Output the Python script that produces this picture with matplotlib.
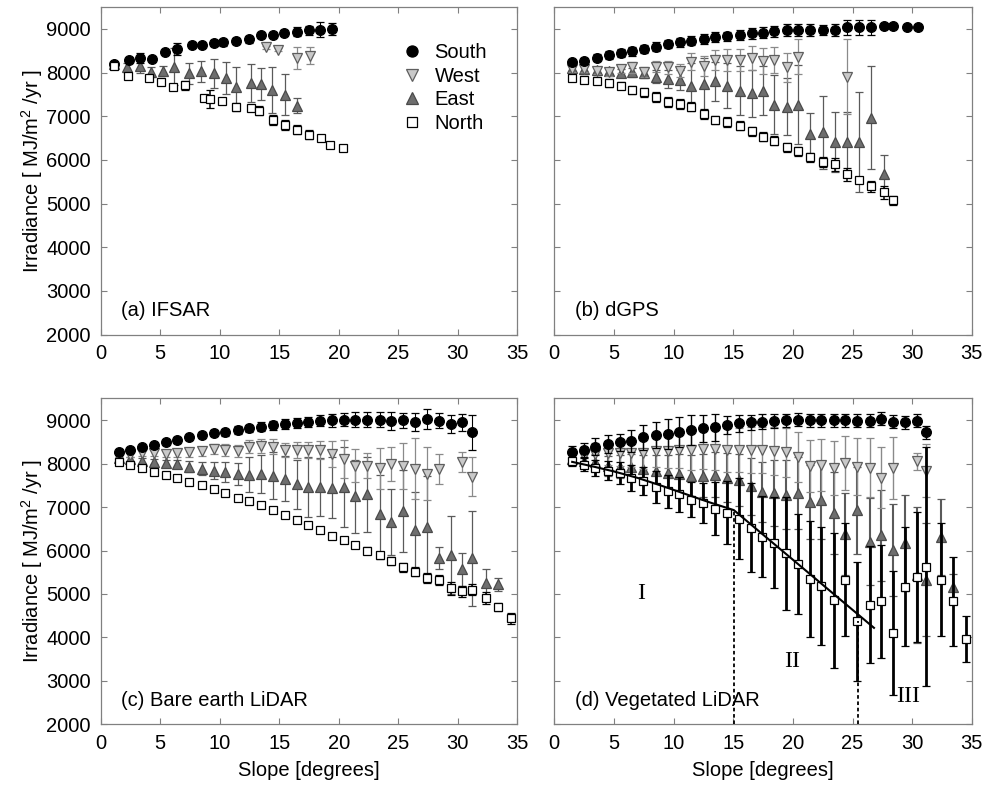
import numpy as np
import matplotlib.pyplot as plt
from matplotlib.lines import Line2D

plt.rcParams.update({
    "font.family": "Liberation Sans",
    "font.size": 14.5,
    "mathtext.fontset": "custom",
    "mathtext.rm": "Liberation Sans",
})

nan = np.nan

# (a) IFSAR -- each aspect class has its own slope bins
a_south_x = [1.1, 2.4, 3.3, 4.3, 5.4, 6.4, 7.7, 8.5, 9.5, 10.3, 11.4, 12.5, 13.5, 14.5, 15.4, 16.5, 17.5, 18.4, 19.4]
a_south_y = [8190, 8290, 8330, 8310, 8465, 8540, 8640, 8630, 8670, 8690, 8725, 8765, 8855, 8870, 8915, 8940, 8970, 8985, 9005]
a_south_e = [30, 50, 110, 40, 40, 130, 50, 50, 70, 70, 70, 80, 60, 60, 50, 100, 100, 170, 140]

a_west_x = [13.9, 14.9, 16.5, 17.6]
a_west_y = [8580, 8525, 8335, 8390]
a_west_e = [40, 40, 250, 190]

a_east_x = [1.1, 2.2, 3.3, 4.2, 5.2, 6.2, 7.4, 8.4, 9.5, 10.5, 11.4, 12.6, 13.5, 14.4, 15.5, 16.5]
a_east_y = [8200, 8120, 8145, 8010, 8045, 8135, 7985, 8025, 7985, 7870, 7665, 7755, 7740, 7605, 7495, 7245]
a_east_e = [40, 110, 150, 110, 110, 420, 245, 230, 330, 365, 460, 440, 365, 520, 470, 170]

a_north_x = [1.1, 2.3, 4.1, 5.1, 6.1, 7.1, 8.7, 9.2, 10.2, 11.4, 12.6, 13.3, 14.5, 15.5, 16.5, 17.5, 18.5, 19.3, 20.4]
a_north_y = [8160, 7930, 7880, 7795, 7665, 7705, 7420, 7400, 7360, 7205, 7185, 7130, 6915, 6805, 6695, 6575, 6505, 6330, 6270]
a_north_e = [40, 60, 60, 80, 60, 110, 60, 200, 60, 90, 70, 100, 110, 110, 100, 100, 60, 60, 60]

# (b) dGPS
b_x = [1.5, 2.5, 3.55, 4.6, 5.55, 6.55, 7.5, 8.5, 9.5, 10.5, 11.5, 12.55, 13.5, 14.45, 15.55,
       16.55, 17.5, 18.45, 19.5, 20.45, 21.45, 22.5, 23.5, 24.5, 25.55, 26.55, 27.6, 28.4, 29.6, 30.5]
b_south_y = [8237, 8259, 8336, 8412, 8450, 8488, 8542, 8595, 8656, 8694, 8732, 8771, 8809, 8831, 8862,
             8900, 8915, 8946, 8976, 8976, 8976, 8976, 8976, 9037, 9037, 9037, 9060, 9068, 9053, 9037]
b_south_e = [60, 70, 80, 90, 90, 100, 100, 100, 100, 100, 100, 110, 110, 110, 110,
             120, 120, 130, 130, 130, 130, 120, 130, 170, 170, 170, 40, 40, 40, 60]
b_west_y = [8085, 8085, 8046, 8008, 8084, 8122, 8008, 8137, 8122, 8046, 8252, 8160, 8290, 8290, 8290,
            8336, 8259, 8290, 8122, 8366, nan, nan, nan, 7909, nan, nan, nan, nan, nan, nan]
b_west_e = [80, 80, 80, 90, 100, 120, 120, 130, 150, 150, 200, 230, 230, 250, 250,
            270, 300, 300, 330, 400, nan, nan, nan, 850, nan, nan, nan, nan, nan, nan]
b_east_y = [8100, 8080, 8050, 8030, 8000, 8008, 7985, 7909, 7855, 7832, 7703, 7741, 7802, 7703, 7588,
            7527, 7588, 7268, 7222, 7268, 6582, 6635, 6406, 6406, 6406, 6963, 5682, nan, nan, nan]
b_east_e = [60, 70, 80, 80, 90, 100, 120, 150, 200, 230, 520, 600, 450, 520, 560,
            540, 560, 680, 650, 900, 500, 840, 690, 700, 1150, 1180, 435, nan, nan, nan]
b_north_y = [7878, 7832, 7817, 7756, 7703, 7604, 7550, 7436, 7321, 7283, 7222, 7055, 6917, 6864, 6788,
             6658, 6536, 6444, 6292, 6200, 6063, 5949, 5895, 5666, 5529, 5392, 5262, 5071, nan, nan]
b_north_e = [60, 80, 80, 90, 90, 100, 100, 110, 110, 110, 110, 120, 100, 110, 100,
             100, 100, 100, 100, 100, 100, 110, 150, 160, 60, 130, 150, 110, nan, nan]

# (c) bare earth and (d) vegetated LiDAR share the slope bins
cd_x = [1.5, 2.5, 3.45, 4.5, 5.5, 6.45, 7.45, 8.5, 9.5, 10.45,
        11.5, 12.45, 13.5, 14.45, 15.5, 16.5, 17.45, 18.45, 19.45, 20.45,
        21.4, 22.4, 23.45, 24.4, 25.4, 26.45, 27.4, 28.4, 29.4, 30.4,
        31.2, 32.4, 33.4, 34.5]

c_south_y = [8260, 8314, 8375, 8436, 8489, 8542, 8603, 8657, 8695, 8725,
             8771, 8809, 8847, 8878, 8908, 8939, 8962, 8985, 9000, 9015,
             9015, 9015, 9015, 8985, 9000, 8962, 9031, 8985, 8908, 8947,
             8718, nan, nan, nan]
c_south_e = [30, 40, 40, 50, 50, 60, 60, 70, 70, 80,
             90, 90, 100, 100, 110, 110, 120, 130, 150, 150,
             170, 170, 170, 200, 170, 200, 230, 170, 200, 200,
             400, nan, nan, nan]
c_west_y = [8146, 8207, 8237, 8237, 8222, 8237, 8260, 8283, 8336, 8314,
            8283, 8390, 8413, 8390, 8314, 8314, 8314, 8314, 8222, 8108,
            7955, 7955, 7894, 7993, 7955, 7879, 7764, 7879, nan, 8031,
            7703, nan, nan, nan]
c_west_e = [50, 60, 70, 70, 80, 90, 100, 110, 120, 130,
            140, 150, 160, 170, 170, 190, 190, 200, 300, 440,
            370, 290, 470, 400, 530, 700, 610, 340, nan, 230,
            440, nan, nan, nan]
c_east_y = [8123, 8108, 8070, 8047, 8008, 7993, 7932, 7879, 7841, 7818,
            7764, 7742, 7764, 7726, 7650, 7520, 7459, 7459, 7444, 7459,
            7246, 7292, 6834, 6658, 6910, 6468, 6544, 5820, 5896, 5568,
            5820, 5262, 5220, nan]
c_east_e = [40, 50, 60, 60, 80, 100, 120, 150, 200, 230,
            250, 400, 430, 530, 520, 570, 690, 670, 700, 915,
            840, 855, 900, 760, 950, 880, 1180, 250, 900, 380,
            1090, 320, 150, nan]
c_north_y = [8047, 7978, 7902, 7818, 7742, 7665, 7574, 7497, 7406, 7322,
             7215, 7131, 7040, 6925, 6811, 6712, 6597, 6468, 6338, 6239,
             6125, 5995, 5896, 5759, 5614, 5514, 5362, 5324, 5133, 5057,
             5095, 4905, 4700, 4440]
c_north_e = [40, 40, 40, 50, 50, 60, 50, 50, 50, 50,
             50, 50, 50, 50, 50, 50, 60, 60, 60, 60,
             70, 80, 80, 90, 100, 110, 120, 120, 150, 130,
             130, 130, 100, 120]

d_south_y = [8260, 8314, 8390, 8451, 8489, 8527, 8603, 8657, 8680, 8733,
             8771, 8809, 8832, 8886, 8924, 8947, 8962, 8985, 9000, 9015,
             9000, 9000, 9000, 9000, 8985, 8985, 9038, 8962, 8947, 8985,
             8718, nan, nan, nan]
d_south_e = [150, 170, 200, 200, 200, 250, 280, 300, 340, 350,
             350, 320, 300, 200, 190, 180, 170, 160, 150, 150,
             150, 150, 150, 150, 150, 150, 150, 150, 150, 150,
             150, nan, nan, nan]
d_west_y = [8146, 8184, 8222, 8237, 8237, 8237, 8237, 8298, 8298, 8314,
            8314, 8336, 8336, 8314, 8314, 8314, 8314, 8298, 8260, 8146,
            7955, 7978, 7902, 8008, 7932, 7902, 7673, 7902, nan, 8054,
            7841, nan, nan, nan]
d_west_e = [150, 200, 250, 280, 300, 320, 350, 380, 400, 420,
            450, 470, 480, 500, 500, 520, 540, 550, 560, 580,
            600, 600, 620, 620, 650, 680, 700, 720, nan, 200,
            600, nan, nan, nan]
d_east_y = [8108, 8070, 8031, 7955, 7932, 7932, 7879, 7825, 7780, 7764,
            7726, 7726, 7749, 7673, 7627, 7475, 7345, 7322, 7284, 7322,
            7116, 7170, 6864, 6376, 6925, 6201, 6353, 6010, 6178, 5438,
            5324, 6315, 5156, nan]
d_east_e = [150, 180, 200, 230, 260, 300, 330, 380, 420, 450,
            480, 500, 520, 560, 600, 650, 700, 750, 800, 820,
            850, 900, 950, 950, 1000, 1000, 1050, 1050, 1100, 1560,
            1300, 880, 300, nan]
d_north_y = [8070, 7978, 7902, 7841, 7780, 7673, 7597, 7459, 7360, 7292,
             7170, 7093, 6964, 6872, 6735, 6529, 6315, 6178, 5934, 5682,
             5339, 5186, 4851, 5324, 4370, 4752, 4828, 4104, 5171, 5385,
             5629, 5324, 4828, 3966]
d_north_e = [120, 150, 180, 220, 260, 300, 330, 360, 380, 400,
             400, 450, 610, 725, 930, 1030, 930, 1045, 1300, 1150,
             1335, 1350, 1560, 1300, 1370, 1350, 1300, 1430, 1370, 1500,
             2750, 1300, 1030, 530]

# piecewise fit through the vegetated north-facing means
fit_x = [1.5, 3, 5, 7, 9, 11, 13, 15.05, 26.8]
fit_y = [8040, 7950, 7820, 7670, 7490, 7300, 7110, 6930, 4220]
break_x = [15.05, 25.5]
break_top = [6930, 4370]

style = {
    'South': dict(fmt='o', ms=7, mfc='k', mec='k', ecolor='k', elw=0.8, z=5),
    'West': dict(fmt='v', ms=7.5, mfc='#c9c9c9', mec='#5e5e5e', ecolor='#8a8a8a', elw=0.9, z=4),
    'East': dict(fmt='^', ms=7.5, mfc='#6e6e6e', mec='#4a4a4a', ecolor='#5a5a5a', elw=0.9, z=3),
    'North': dict(fmt='s', ms=6, mfc='white', mec='k', ecolor='k', elw=1.1, z=6),
}
veg_lw = {'South': 1.0, 'West': 1.0, 'East': 1.5, 'North': 2.0}


def draw(ax, series, lw=None):
    for name in ['North', 'East', 'West', 'South']:
        x, y, e = series[name]
        st = style[name]
        w = lw[name] if lw else st['elw']
        ax.errorbar(x, y, yerr=e, fmt=st['fmt'], ms=st['ms'], mfc=st['mfc'],
                    mec=st['mec'], mew=0.9, ecolor=st['ecolor'], elinewidth=w,
                    capsize=3, capthick=w, zorder=st['z'])


fig = plt.figure(figsize=(9.87, 7.89), dpi=100)
ax_a = fig.add_axes([0.102, 0.576, 0.422, 0.415])
ax_b = fig.add_axes([0.5616, 0.576, 0.423, 0.415])
ax_c = fig.add_axes([0.102, 0.082, 0.422, 0.413])
ax_d = fig.add_axes([0.5616, 0.082, 0.423, 0.413])

draw(ax_a, {'South': (a_south_x, a_south_y, a_south_e),
            'West': (a_west_x, a_west_y, a_west_e),
            'East': (a_east_x, a_east_y, a_east_e),
            'North': (a_north_x, a_north_y, a_north_e)})
draw(ax_b, {'South': (b_x, b_south_y, b_south_e),
            'West': (b_x, b_west_y, b_west_e),
            'East': (b_x, b_east_y, b_east_e),
            'North': (b_x, b_north_y, b_north_e)})
draw(ax_c, {'South': (cd_x, c_south_y, c_south_e),
            'West': (cd_x, c_west_y, c_west_e),
            'East': (cd_x, c_east_y, c_east_e),
            'North': (cd_x, c_north_y, c_north_e)})
draw(ax_d, {'South': (cd_x, d_south_y, d_south_e),
            'West': (cd_x, d_west_y, d_west_e),
            'East': (cd_x, d_east_y, d_east_e),
            'North': (cd_x, d_north_y, d_north_e)}, lw=veg_lw)

ax_d.plot(fit_x, fit_y, color='k', lw=1.5, zorder=7)
for bx, bt in zip(break_x, break_top):
    ax_d.plot([bx, bx], [2000, bt], color='k', ls=(0, (2, 1.5)), lw=1.3, zorder=7)
for s, tx, ty in [('I', 7.3, 5020), ('II', 19.9, 3455), ('III', 29.7, 2650)]:
    ax_d.text(tx, ty, s, family='Liberation Serif', fontsize=17, ha='center', va='center', zorder=8)

panels = [(ax_a, '(a) IFSAR'), (ax_b, '(b) dGPS'),
          (ax_c, '(c) Bare earth LiDAR'), (ax_d, '(d) Vegetated LiDAR')]
for ax, lab in panels:
    ax.set_xlim(0, 35)
    ax.set_ylim(2000, 9500)
    ax.set_xticks(range(0, 36, 5))
    ax.set_yticks(range(2000, 9001, 1000))
    ax.tick_params(direction='in', top=True, right=True, length=4, width=0.8,
                   color='#808080', pad=7)
    for sp in ax.spines.values():
        sp.set_color('#808080')
        sp.set_linewidth(0.9)
    ax.text(0.05, 0.072, lab, transform=ax.transAxes, va='center', ha='left', zorder=9)

for ax in (ax_b, ax_d):
    ax.tick_params(labelleft=False)
for ax in (ax_a, ax_c):
    ax.set_ylabel('Irradiance [ MJ/m$^{\\mathrm{2}}$ /yr ]', labelpad=1)
for ax in (ax_c, ax_d):
    ax.set_xlabel('Slope [degrees]', labelpad=6)

handles = [Line2D([], [], ls='none', marker=style[n]['fmt'], ms=style[n]['ms'] + 1,
                  mfc=style[n]['mfc'], mec=style[n]['mec'], mew=0.9)
           for n in ['South', 'West', 'East', 'North']]
ax_a.legend(handles, ['South', 'West', 'East', 'North'], loc='upper left',
            bbox_to_anchor=(0.7, 0.92), frameon=False, handlelength=1.0,
            handletextpad=0.6, labelspacing=0.22, borderpad=0, fontsize=14.5)

fig.savefig('out.png', dpi=100)
